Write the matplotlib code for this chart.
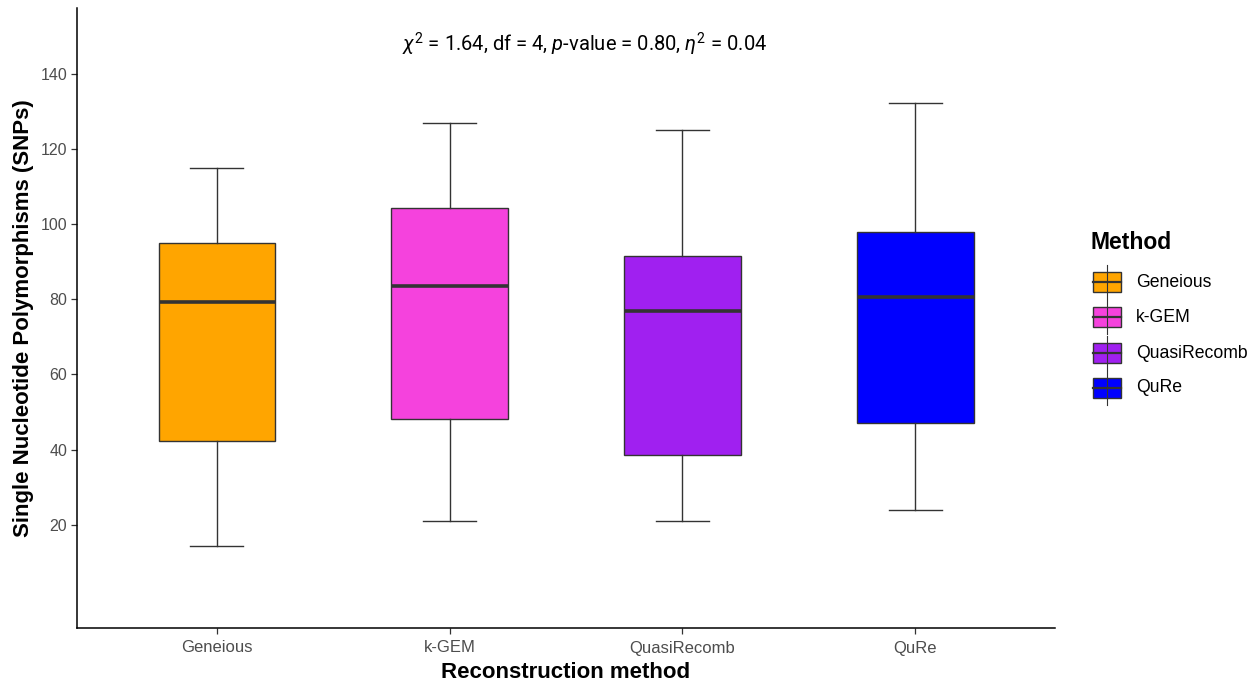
import matplotlib
matplotlib.use("Agg")
import matplotlib.pyplot as plt
from matplotlib.patches import Rectangle
from matplotlib.lines import Line2D

methods = ["Geneious", "k-GEM", "QuasiRecomb", "QuRe"]
whisker_low = [14.2, 21.1, 21.1, 24.0]
q1 = [42.3, 48.2, 38.6, 47.1]
median = [79.2, 83.5, 76.8, 80.5]
q3 = [94.9, 104.2, 91.4, 97.8]
whisker_high = [115.0, 127.0, 125.1, 132.3]
colors = ["#FFA500", "#F542DD", "#A020F0", "#0000FF"]
yticks = [20, 40, 60, 80, 100, 120, 140]

plt.rcParams["mathtext.fontset"] = "custom"
plt.rcParams["mathtext.rm"] = "Roboto"
plt.rcParams["mathtext.it"] = "Roboto:italic"

W, H = 1252, 683
fig = plt.figure(figsize=(W / 100, H / 100), dpi=100)
ax = fig.add_axes([77 / W, (H - 628) / H, (1055 - 77) / W, (628 - 8) / H])

stats = []
for i, m in enumerate(methods):
    stats.append(dict(label=m, whislo=whisker_low[i], q1=q1[i], med=median[i],
                      q3=q3[i], whishi=whisker_high[i], fliers=[]))
pos = list(range(1, len(methods) + 1))
bp = ax.bxp(stats, positions=pos, widths=0.5, patch_artist=True, capwidths=0.23,
            boxprops=dict(edgecolor="#333333", linewidth=1.0),
            medianprops=dict(color="#333333", linewidth=2.6),
            whiskerprops=dict(color="#333333", linewidth=1.0),
            capprops=dict(color="#333333", linewidth=1.0))
for patch, c in zip(bp["boxes"], colors):
    patch.set_facecolor(c)

ax.set_xlim(0.4, 4.6)
ax.set_ylim(-7.5, 157.5)
ax.set_yticks(yticks)
ax.set_xticks(pos)
ax.set_xticklabels(methods)
for s in ["top", "right"]:
    ax.spines[s].set_visible(False)
for s in ["left", "bottom"]:
    ax.spines[s].set_color("black")
    ax.spines[s].set_linewidth(1.1)
ax.tick_params(axis="both", colors="#333333", labelcolor="#4D4D4D",
               length=4, width=0.9)
ax.tick_params(axis="x", labelsize=12, pad=5)
ax.tick_params(axis="y", labelsize=11.5, pad=3)
for t in ax.get_xticklabels() + ax.get_yticklabels():
    t.set_fontfamily("Liberation Sans")
ax.set_xlabel("Reconstruction method", fontsize=16, fontweight="bold",
              family="Liberation Sans", labelpad=5)
ax.set_ylabel("Single Nucleotide Polymorphisms (SNPs)", fontsize=16, fontweight="bold",
              family="Liberation Sans", labelpad=5)

fig.text(585 / W, 1 - 44 / H,
         r"$\chi^2$ = 1.64, df = 4, $\mathit{p}$-value = 0.80, $\eta^2$ = 0.04",
         ha="center", va="center", fontsize=14.5, family="Roboto")

# legend drawn manually
fig.text(1090 / W, 1 - 242 / H, "Method", fontsize=16.5, fontweight="bold",
         family="Liberation Sans", ha="left", va="center")
key_y = [282, 317, 353, 388]
for c, m, yc in zip(colors, methods, key_y):
    x0, x1 = 1093, 1121
    xm = (x0 + x1) / 2
    fig.add_artist(Line2D([xm / W, xm / W], [1 - (yc - 17) / H, 1 - (yc + 17) / H],
                          color="#333333", linewidth=0.8))
    fig.add_artist(Rectangle((x0 / W, 1 - (yc + 10) / H), (x1 - x0) / W, 20 / H,
                             facecolor=c, edgecolor="#333333", linewidth=1.0,
                             transform=fig.transFigure))
    fig.add_artist(Line2D([x0 / W, x1 / W], [1 - yc / H, 1 - yc / H],
                          color="#333333", linewidth=1.6))
    fig.text(1136 / W, 1 - yc / H, m, fontsize=12.7, family="Liberation Sans",
             ha="left", va="center", color="black")

fig.savefig("out.png", dpi=100)
